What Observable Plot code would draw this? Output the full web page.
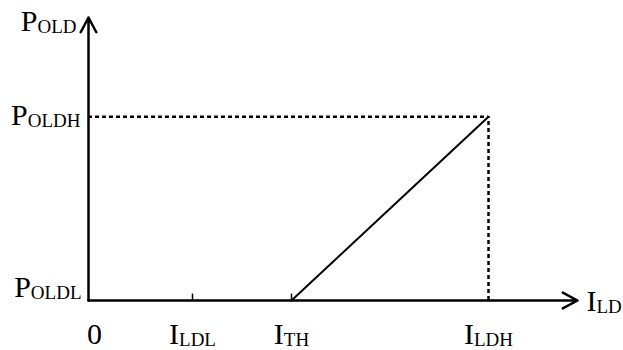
<!DOCTYPE html>
<html><head><meta charset="utf-8">
<script src="https://cdn.jsdelivr.net/npm/d3@7"></script>
<script src="https://cdn.jsdelivr.net/npm/@observablehq/plot@0.6"></script>
<style>body{margin:0;background:#fff;}</style>
</head><body><div id="chart"></div>
<script>
// Data (arbitrary units)
const xTickValues = [1.04, 2.03, 4.0];
const xTickLabels = ["I_LDL", "I_TH", "I_LDH"];
const originLabel = "0";
const xTickMarks = [1.04, 2.03];
const yLowValue = 0, yLowLabel = "P_OLDL";
const yHighValue = 1, yHighLabel = "P_OLDH";
const xAxisEnd = 4.89;
const yAxisEnd = 1.54;
const xAxisLabel = "I_LD";
const yAxisLabel = "P_OLD";
const curveX = [2.03, 4.0];   // I_TH -> I_LDH
const curveY = [0, 1];        // P_OLDL -> P_OLDH

const curve = curveX.map((x, i) => ({x, y: curveY[i]}));
const xTicks = xTickValues.map((v, i) => ({v, label: xTickLabels[i]}));
const axes = [
  {x1: 0, y1: 0, x2: xAxisEnd, y2: 0},
  {x1: 0, y1: 0, x2: 0, y2: yAxisEnd}
];
const pHigh = curveY[1], iHigh = curveX[1];
const FS = 30, SUB = 19;

const chart = Plot.plot({
  width: 623, height: 350,
  marginLeft: 88, marginRight: 46, marginTop: 17, marginBottom: 50,
  x: {domain: [0, xAxisEnd], axis: null},
  y: {domain: [0, yAxisEnd], axis: null},
  style: {fontFamily: "'Liberation Serif', 'Times New Roman', serif", background: "white", color: "black", overflow: "visible"},
  marks: [
    Plot.ruleY([pHigh], {x1: 0, x2: iHigh, y: d => d, stroke: "black", strokeWidth: 2.5, strokeDasharray: "4,3"}),
    Plot.ruleX([iHigh], {x: d => d, y1: 0, y2: pHigh, stroke: "black", strokeWidth: 2.5, strokeDasharray: "4,3"}),
    Plot.line(curve, {x: "x", y: "y", stroke: "black", strokeWidth: 2}),
    Plot.ruleX(xTickMarks, {x: d => d, y1: 0, y2: 0.035, stroke: "black", strokeWidth: 1.5}),
    Plot.arrow(axes, {x1: "x1", y1: "y1", x2: "x2", y2: "y2", stroke: "black", strokeWidth: 2.5, headAngle: 56, headLength: 10}),
    Plot.text(xTicks, {x: "v", y: () => 0, text: "label", fontSize: FS, dy: 34, textAnchor: "middle", fill: "black"}),
    Plot.text([originLabel], {x: () => 0, y: () => 0, text: d => d, fontSize: FS, dx: 6, dy: 34, textAnchor: "middle", fill: "black"}),
    Plot.text([yLowLabel], {x: () => 0, y: () => yLowValue, text: d => d, fontSize: FS, dx: -7, dy: -13, textAnchor: "end", fill: "black"}),
    Plot.text([yHighLabel], {x: () => 0, y: () => yHighValue, text: d => d, fontSize: FS, dx: -8, dy: -1, textAnchor: "end", fill: "black"}),
    Plot.text([xAxisLabel], {x: () => xAxisEnd, y: () => 0, text: d => d, fontSize: FS, dx: 9, dy: 1, textAnchor: "start", fill: "black"}),
    Plot.text([yAxisLabel], {x: () => 0, y: () => yAxisEnd, text: d => d, fontSize: FS, dx: -12, dy: 4, textAnchor: "end", fill: "black"})
  ]
});

// Render "A_B" labels as main text with a subscript
chart.querySelectorAll("text").forEach(t => {
  const s = t.textContent;
  if (!s.includes("_")) return;
  const [a, b] = s.split("_");
  t.textContent = "";
  const ns = "http://www.w3.org/2000/svg";
  const m = document.createElementNS(ns, "tspan");
  m.textContent = a;
  const sub = document.createElementNS(ns, "tspan");
  sub.textContent = b;
  sub.setAttribute("font-size", SUB);
  sub.setAttribute("dy", "2");
  t.appendChild(m);
  t.appendChild(sub);
});

document.getElementById("chart").appendChild(chart);
</script>
</body></html>
